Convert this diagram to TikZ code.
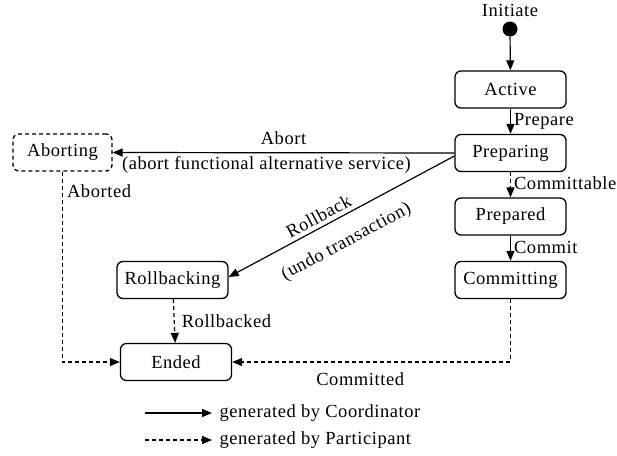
\documentclass[tikz,border=0pt]{standalone}
\usepackage{fontspec}
\setmainfont[LetterSpace=3]{Liberation Serif}
\usetikzlibrary{arrows.meta}
\begin{document}
\begin{tikzpicture}[x=1pt,y=-1pt,
  font=\fontsize{18.5}{21}\selectfont,
  state/.style={draw,rounded corners=6pt,line width=1.3pt,minimum width=111pt,minimum height=37pt,inner sep=0pt},
  flow/.style={line width=1.2pt,-{Triangle[length=10pt,width=8pt]}},
  partflow/.style={flow,dash pattern=on 4pt off 3pt},
  lbl/.style={inner sep=1pt}]
\useasboundingbox (0,0) rectangle (617,455);

% states
\node[lbl] (initlbl) at (510,10) {Initiate};
\node[circle,fill,inner sep=0pt,minimum size=15pt] (init) at (510,29) {};
\node[state] (active) at (510.5,89.5) {Active};
\node[state] (prep) at (510.5,153) {Preparing};
\node[state] (prepd) at (510.5,216.5) {Prepared};
\node[state] (commit) at (510.5,280) {Committing};
\node[state] (rollb) at (172.5,280) {Rollbacking};
\node[state] (ended) at (176,362) {Ended};
\node[state,dash pattern=on 4pt off 3pt,minimum width=99pt] (abort) at (62.5,152.5) {Aborting};

% coordinator transitions
\draw[flow] (init) -- (active);
\draw[flow] (active) -- node[lbl,right=2pt,pos=0.5] {Prepare} (prep);
\draw[flow] (prepd) -- node[lbl,right=2pt,pos=0.45] {Commit} (commit);
\draw[flow] (prep.west) -- node[lbl,pos=0.5,above=6pt] {Abort}
  node[lbl,pos=0.55,below=2pt] {(abort functional alternative service)} (abort.east);
\draw[flow] ([yshift=-3pt]prep.west) -- node[lbl,sloped,pos=0.578,above=3pt] {Rollback}
  node[lbl,sloped,pos=0.53,below=15pt] {(undo transaction)} ([yshift=3pt]rollb.east);

% participant transitions
\draw[partflow] (prep) -- node[lbl,right=2pt,pos=0.45] {Committable} (prepd);
\draw[partflow] (rollb) -- node[lbl,right=6pt] {Rollbacked} (ended);
\draw[partflow] (abort.south) |- node[lbl,pos=0.05,right=3pt] {Aborted} (ended.west);
\draw[partflow] (commit.south) |- node[lbl,pos=0.77,below=9pt] {Committed} (ended.east);

% legend
\coordinate (l1a) at (145,413);
\coordinate (l1b) at (212,413);
\coordinate (l2a) at (145,440);
\coordinate (l2b) at (212,440);
\draw[flow] (l1a) -- (l1b) node[lbl,anchor=west,xshift=6pt] {generated by Coordinator};
\draw[partflow] (l2a) -- (l2b) node[lbl,anchor=west,xshift=6pt] {generated by Participant};
\end{tikzpicture}
\end{document}
